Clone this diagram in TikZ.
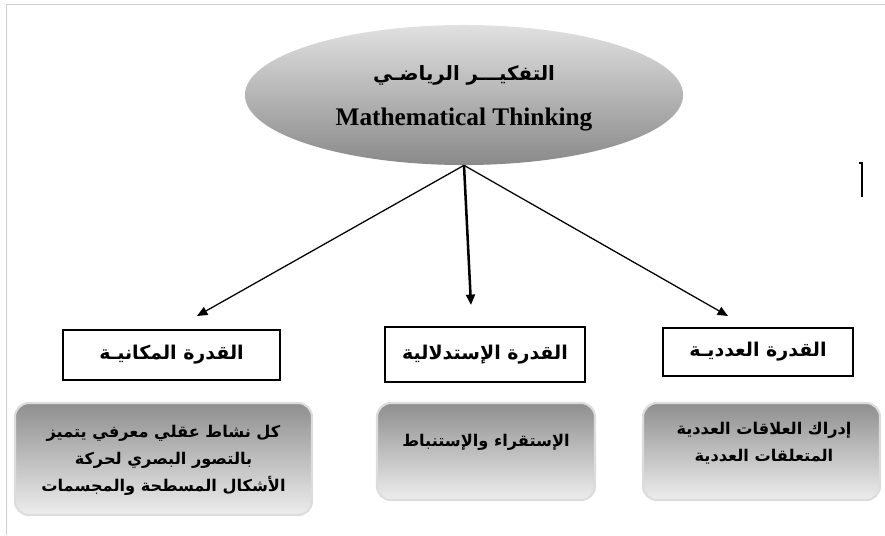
\documentclass[tikz,border=0pt]{standalone}
\usepackage{fontspec}
\usepackage{tikz}
\usetikzlibrary{arrows.meta, positioning, shapes.geometric}
\newfontfamily\arabicfont[Script=Arabic]{DejaVu Sans}
\newfontfamily\latinfont{Liberation Serif}
\TeXXeTstate=1
\definecolor{Rim}{HTML}{DCDCDC}
\definecolor{Frame}{HTML}{CFCFCF}

\begin{document}
\begin{tikzpicture}[x=0.025cm, y=-0.025cm,
        ar/.style={font=\arabicfont\bfseries\fontsize{13.5}{19.2}\selectfont, align=center},
        artxt/.style={font=\arabicfont\bfseries\fontsize{11.5}{19.2}\selectfont, align=center},
        topic/.style={ellipse, minimum width=10.95cm, minimum height=3.5cm, top color=black!12, bottom color=black!46, inner sep=0pt},
        ability/.style={draw, line width=1pt, fill=white, inner sep=0pt},
        desc/.style={rounded corners=10pt, draw=Rim, line width=1.5pt, top color=black!44, bottom color=black!7, inner sep=0pt},
        arr/.style={-{Triangle[length=2.6mm, width=2.2mm]}, line width=0.9pt}
      ]
        \useasboundingbox (0,0) rectangle (885,535);
        \draw[Frame, line width=0.6pt] (885,4) -- (6,4) -- (6,535);

        \node[topic] (topic) at (464,95) {};
        \node[ar, font=\arabicfont\bfseries\fontsize{14}{18}\selectfont] (topicar) at (464,75) {\beginR التفكيـــر الرياضـي\endR};
        \node[font=\latinfont\bfseries\fontsize{18}{20}\selectfont] (topicen) at (464,120) {Mathematical Thinking};

        \node[ability, ar, minimum width=5.425cm, minimum height=1.25cm] (spatial) at (171.5,355) {\beginR القدرة المكانيـة\endR};
        \node[ability, ar, minimum width=5cm, minimum height=1.375cm] (reasoning) at (485,354.5) {\beginR القدرة الإستدلالية\endR};
        \node[ability, ar, minimum width=4.75cm, minimum height=1.2cm] (numeric) at (758,352) {\beginR القدرة العدديـة\endR};

        \node[desc, minimum width=7.425cm, minimum height=2.8cm] (spatialbox) at (163.5,459) {};
        \node[desc, minimum width=5.45cm, minimum height=2.425cm] (reasoningbox) at (486,451.5) {};
        \node[desc, minimum width=5.925cm, minimum height=2.425cm] (numericbox) at (761.5,451.5) {};

        \node[artxt] (spatialtxt) at (163.5,460) {\beginR كل نشاط عقلي معرفي يتميز\endR\\\beginR بالتصور البصري لحركة\endR\\\beginR الأشكال المسطحة والمجسمات\endR};
        \node[artxt] (reasoningtxt) at (486,442) {\beginR الإستقراء والإستنباط\endR};
        \node[artxt] (numerictxt) at (764,443.5) {\beginR إدراك العلاقات العددية\endR\\\beginR المتعلقات العددية\endR};

        \coordinate (tipL) at (197,316);
        \coordinate (tipM) at (471,305);
        \coordinate (tipR) at (728,316);
        \draw[arr] (topic.south) -- (tipL);
        \draw[arr, line width=1.8pt] (topic.south) -- (tipM);
        \draw[arr] (topic.south) -- (tipR);

        \draw[line width=1pt] (859,163) -- (862,163) -- (862,197);
      \end{tikzpicture}
\end{document}
